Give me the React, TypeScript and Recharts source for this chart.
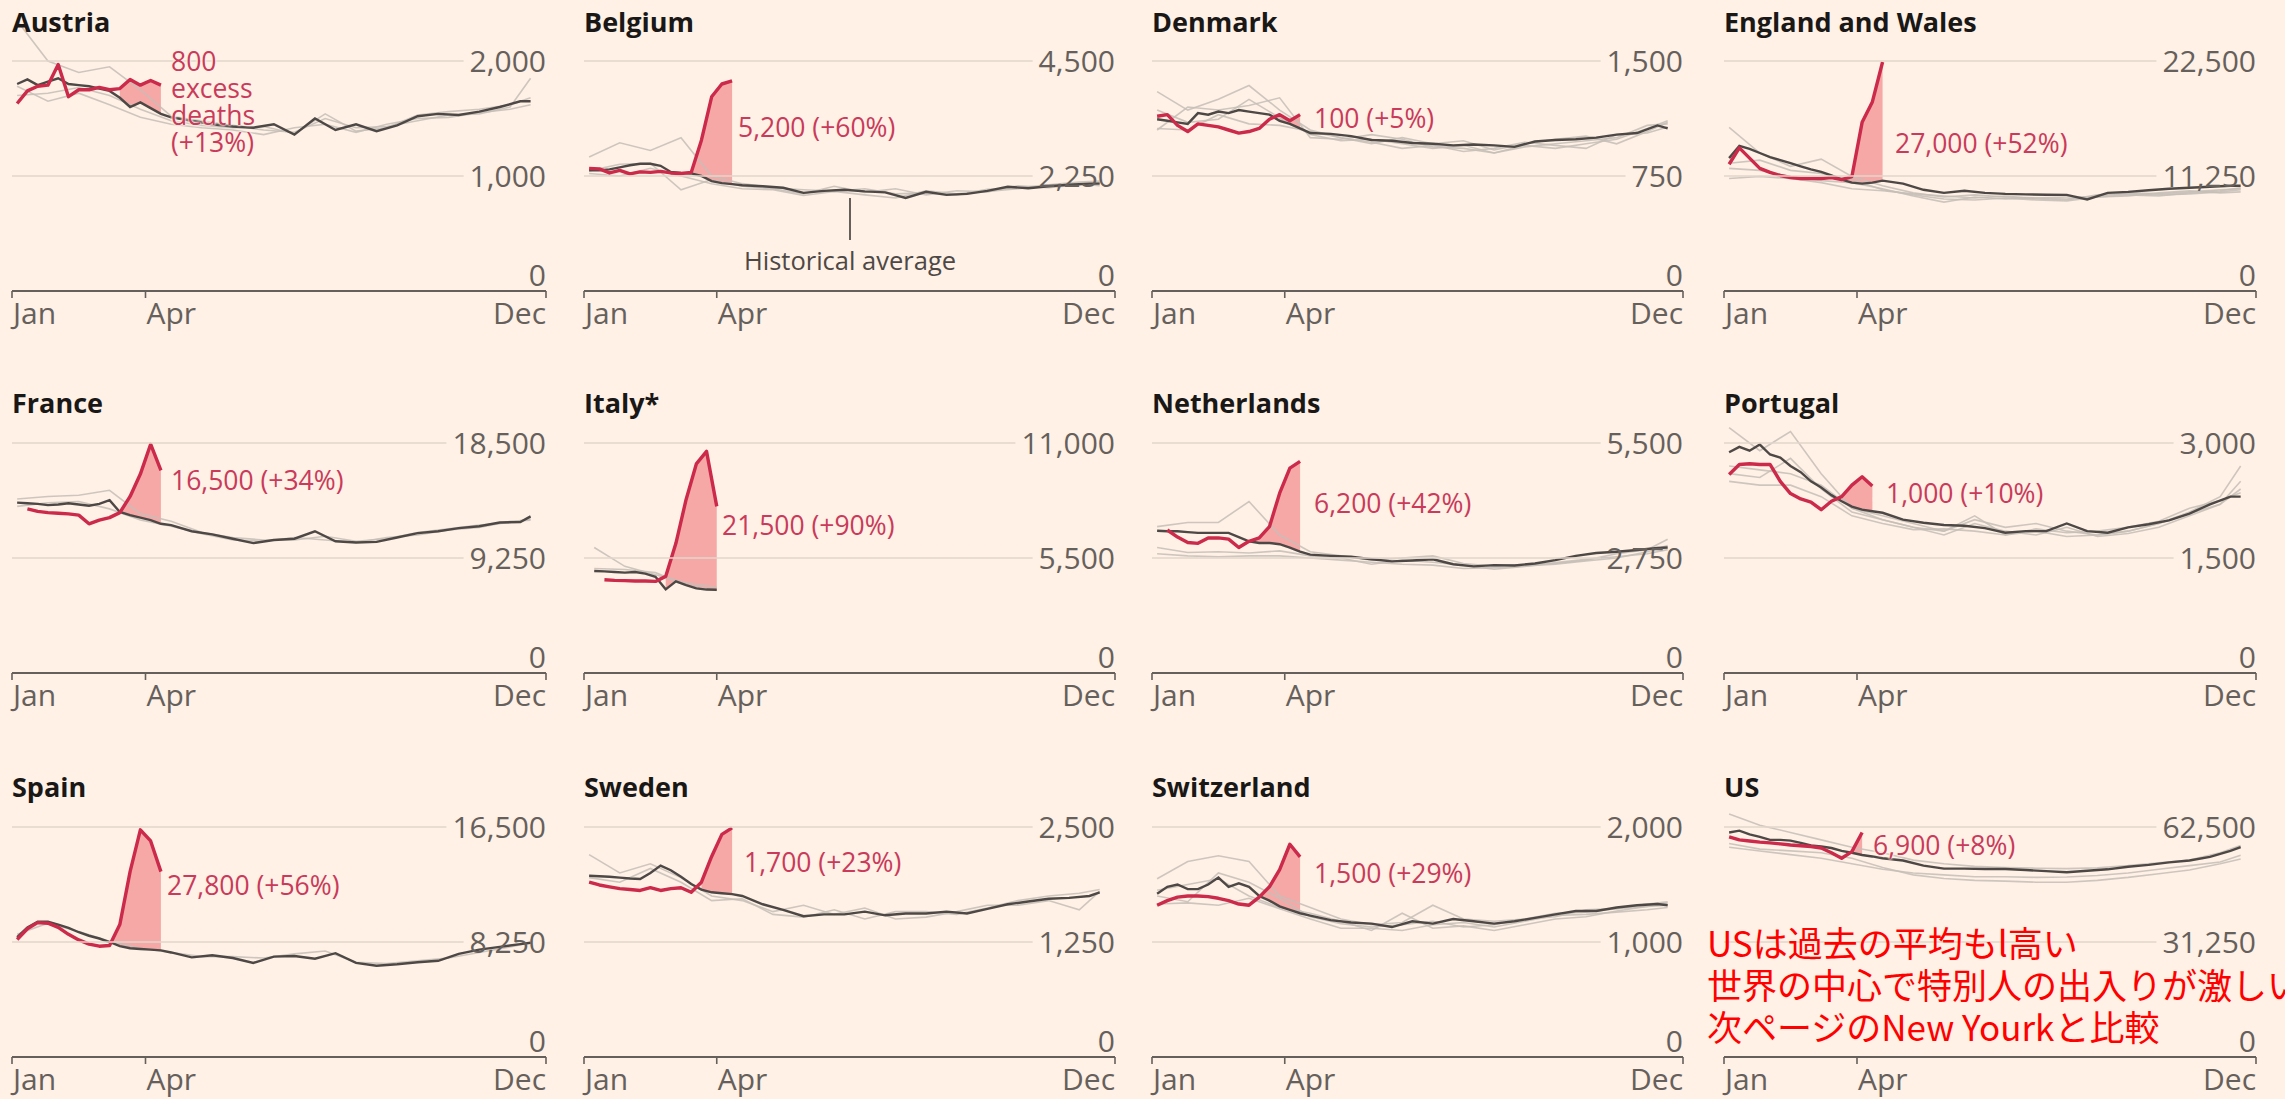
import React from "react";
import { ComposedChart, Line, Area, XAxis, YAxis } from "recharts";

const FONT = '"Open Sans", "Noto Sans", sans-serif';
const BG = "#fff1e5";
const INK = "#1a1817";
const AXIS_GRAY = "#66605c";
const GRID = "#e2d6cb";
const HIST = "#c6beb7";
const AVG_COLOR = "#4d4845";
const RED = "#cc2a4a";
const NOTE_RED = "#c93a5b";
const SHADE = "#f5a0a0";

// x positions are week numbers; Jan/Apr/Dec ticks
const MONTH_TICKS = [0.5, 13.5, 52.5];
const MONTH_LABELS = ["Jan", "Apr", "Dec"];

// weeks sampled for the historical average and for the individual past years
const AVG_WEEKS = [
  1, 2, 3, 4, 5, 6, 7, 8, 9, 10, 11, 12, 13, 14, 15, 16,
  18, 20, 22, 24, 26, 28, 30, 32, 34, 36, 38, 40, 42, 44, 46, 48, 50, 51,
];
const GRAY_WEEKS = [1, 4, 7, 10, 13, 16, 19, 22, 25, 28, 31, 34, 37, 40, 43, 46, 49, 51];

// ---- Austria
const austriaAvg = [1800, 1840, 1790, 1820, 1850, 1800, 1790, 1780, 1760, 1740, 1680, 1600, 1640, 1590, 1540, 1510,
  1480, 1450, 1430, 1420, 1450, 1360, 1500, 1400, 1450, 1390, 1440, 1520, 1540, 1530, 1560, 1600, 1650, 1650];
const austria2020 = [1630, 1740, 1780, 1790, 1970, 1690, 1750, 1750, 1770, 1750, 1760, 1840, 1790, 1830, 1790];
const austriaPast = [
  [2350, 2000, 1900, 1950, 1750, 1520, 1480, 1440, 1400, 1380, 1500, 1420, 1430, 1480, 1530, 1540, 1600, 1850],
  [1700, 1720, 1770, 1700, 1580, 1480, 1440, 1420, 1430, 1370, 1540, 1390, 1420, 1530, 1560, 1580, 1620, 1680],
  [1780, 1650, 1720, 1620, 1510, 1450, 1420, 1400, 1360, 1420, 1450, 1380, 1450, 1500, 1510, 1550, 1580, 1620],
];

// ---- Belgium
const belgiumAvg = [2360, 2360, 2380, 2420, 2460, 2490, 2490, 2450, 2330, 2310, 2300, 2250, 2150, 2110, 2090, 2070,
  2050, 2020, 1920, 1960, 1980, 1950, 1930, 1820, 1940, 1880, 1900, 1960, 2040, 2010, 2050, 2080, 2100, 2100];
const belgium2020 = [2400, 2390, 2310, 2360, 2290, 2330, 2320, 2340, 2310, 2300, 2320, 2950, 3800, 4050, 4110];
const belgiumPast = [
  [2620, 2900, 2750, 3000, 2250, 2100, 2020, 1980, 1950, 2000, 1900, 1920, 1880, 1990, 2020, 2080, 2130, 2150],
  [2350, 2480, 2500, 1980, 2180, 2050, 2000, 1900, 2050, 1930, 2000, 1880, 1960, 1940, 2060, 2020, 2080, 2120],
  [2300, 2250, 2400, 2250, 2100, 2000, 1980, 1870, 1950, 1880, 1820, 1960, 1900, 1950, 2000, 2060, 2100, 2060],
];

// ---- Denmark
const denmarkAvg = [1120, 1110, 1100, 1090, 1160, 1150, 1170, 1160, 1180, 1170, 1160, 1150, 1110, 1090, 1060, 1030,
  1025, 1010, 985, 980, 965, 960, 950, 955, 950, 940, 975, 985, 990, 1000, 1020, 1030, 1080, 1060];
const denmark2020 = [1140, 1150, 1080, 1040, 1090, 1080, 1070, 1050, 1030, 1040, 1060, 1120, 1150, 1110, 1150];
const denmarkPast = [
  [1300, 1180, 1250, 1340, 1180, 1050, 1000, 960, 1000, 960, 980, 920, 960, 990, 1010, 960, 1040, 1100],
  [1050, 1200, 1180, 1210, 1260, 1000, 990, 1020, 990, 940, 930, 900, 940, 960, 980, 1000, 1080, 1090],
  [1060, 1050, 1150, 1090, 1080, 1040, 1000, 970, 930, 950, 910, 930, 970, 950, 930, 1020, 1030, 1070],
  [1180, 1100, 1120, 1250, 1130, 1020, 980, 990, 960, 930, 950, 900, 950, 930, 960, 990, 1060, 1110],
];

// ---- England and Wales
const englandAvg = [13000, 14200, 13900, 13500, 13100, 12800, 12500, 12200, 11900, 11650, 11300, 10900, 10600, 10500, 10600, 10800,
  10500, 9900, 9600, 9800, 9600, 9500, 9450, 9420, 9400, 8950, 9600, 9700, 9850, 10000, 10100, 10200, 10300, 10300];
const england2020 = [12400, 14000, 13000, 12000, 11600, 11300, 11100, 11000, 11000, 11000, 11100, 10900, 11200, 16500, 18500, 22400];
const englandPast = [
  [16000, 13500, 12200, 12900, 11200, 10300, 9600, 9200, 9400, 9200, 9100, 9000, 9300, 9600, 9500, 9700, 9900, 10000],
  [12000, 11800, 11200, 10800, 10600, 10000, 9300, 8700, 9200, 9000, 9100, 9200, 9200, 9300, 9600, 9800, 9600, 9700],
  [11000, 11200, 11000, 10600, 10000, 9800, 9500, 9300, 9100, 9300, 9000, 8900, 9400, 9500, 9400, 9500, 9700, 9900],
  [12500, 12800, 11800, 11500, 10900, 9900, 9400, 9000, 8900, 9100, 8900, 8800, 9200, 9400, 9300, 9600, 9800, 10100],
];

// ---- France
const franceAvg = [13700, 13650, 13600, 13500, 13550, 13650, 13550, 13450, 13600, 13900, 12950, 12700, 12500, 12300, 12000, 11900,
  11400, 11150, 10800, 10450, 10700, 10800, 11400, 10600, 10500, 10550, 10900, 11250, 11400, 11650, 11800, 12100, 12150, 12600];
const france2020 = [13200, 13000, 12900, 12850, 12800, 12700, 12000, 12300, 12500, 12900, 14200, 16000, 18400, 16300];
const francePast = [
  [14000, 14200, 14300, 14700, 12800, 12200, 11300, 10900, 10700, 10700, 11000, 10600, 10800, 11300, 11600, 11900, 12100, 12400],
  [13400, 13700, 13800, 13200, 12300, 11800, 11200, 10700, 10600, 10900, 10700, 10500, 10900, 11100, 11500, 11700, 12200, 12300],
];

// ---- Italy (data only to early April)
const italyAvg = [4880, 4860, 4830, 4800, 4830, 4750, 4600, 4000, 4380, 4200, 4050, 3990, 3980];
const italy2020 = [4460, 4430, 4420, 4400, 4400, 4380, 4620, 6200, 8300, 10000, 10600, 7970];
const italyPast = [
  [6000, 5100, 4700, 4300, 4100],
  [5000, 4950, 4800, 4200, 3950],
];

// ---- Netherlands
const netherlandsAvg = [3400, 3390, 3390, 3370, 3350, 3350, 3350, 3350, 3250, 3150, 3110, 3110, 3080, 3000, 2900, 2830,
  2800, 2780, 2720, 2670, 2690, 2720, 2600, 2550, 2580, 2570, 2620, 2700, 2800, 2870, 2900, 2940, 2990, 3000];
const netherlands2020 = [3420, 3250, 3120, 3100, 3230, 3230, 3200, 3000, 3150, 3230, 3500, 4300, 4900, 5060];
const netherlandsPast = [
  [3500, 3600, 3600, 4100, 3300, 2900, 2800, 2700, 2750, 2800, 2620, 2550, 2600, 2620, 2700, 2850, 2950, 3200],
  [2850, 2800, 2780, 2800, 2800, 2750, 2700, 2650, 2600, 2580, 2500, 2520, 2560, 2600, 2680, 2750, 2900, 3050],
  [3000, 2880, 2900, 2870, 2920, 2800, 2750, 2600, 2700, 2650, 2580, 2480, 2550, 2640, 2720, 2780, 2850, 2950],
];

// ---- Portugal
const portugalAvg = [2880, 2950, 2900, 2980, 2850, 2810, 2700, 2620, 2500, 2420, 2320, 2240, 2170, 2130, 2110, 2090,
  2000, 1960, 1930, 1920, 1890, 1830, 1850, 1850, 1950, 1850, 1830, 1900, 1940, 1990, 2080, 2200, 2300, 2300];
const portugal2020 = [2590, 2720, 2730, 2720, 2720, 2500, 2340, 2270, 2230, 2130, 2240, 2300, 2450, 2560, 2440];
const portugalPast = [
  [3200, 2900, 3150, 2600, 2150, 2050, 1950, 1850, 2000, 1900, 1950, 1850, 1800, 1850, 1950, 2100, 2300, 2700],
  [2600, 2550, 2800, 2400, 2100, 2000, 1900, 1800, 1950, 1850, 1800, 1900, 1780, 1820, 1900, 2050, 2200, 2400],
  [2500, 2450, 2450, 2300, 2050, 1950, 1870, 1880, 1850, 1800, 1880, 1830, 1850, 1900, 1980, 2150, 2250, 2350],
  [2700, 2650, 2600, 2450, 2150, 2000, 1900, 1850, 2050, 1800, 1850, 1780, 1800, 1850, 1950, 2080, 2200, 2500],
];

// ---- Spain
const spainAvg = [8600, 9300, 9700, 9700, 9500, 9270, 8950, 8700, 8500, 8250, 7950, 7800, 7750, 7700, 7650, 7500,
  7150, 7300, 7100, 6750, 7200, 7250, 7050, 7450, 6750, 6550, 6650, 6800, 6900, 7400, 7700, 7900, 8100, 8200];
const spain2020 = [8430, 9200, 9640, 9600, 9300, 8800, 8400, 8100, 7950, 8000, 9500, 13300, 16300, 15500, 13300];
const spainPast = [
  [8800, 9600, 9000, 8300, 7800, 7500, 7200, 7200, 7100, 7400, 7600, 6800, 6700, 6900, 7100, 7500, 7900, 8200],
];

// ---- Sweden
const swedenAvg = [1970, 1965, 1960, 1950, 1940, 1935, 2000, 2080, 2030, 1960, 1880, 1820, 1790, 1780, 1770, 1750,
  1660, 1600, 1530, 1550, 1550, 1580, 1540, 1560, 1560, 1580, 1560, 1610, 1660, 1690, 1720, 1730, 1750, 1790];
const sweden2020 = [1900, 1870, 1850, 1830, 1820, 1810, 1840, 1810, 1830, 1840, 1790, 1900, 2180, 2420, 2490];
const swedenPast = [
  [2200, 2000, 2100, 1950, 1750, 1700, 1580, 1650, 1550, 1620, 1500, 1520, 1580, 1650, 1650, 1700, 1600, 1800],
  [1950, 1900, 2050, 1900, 1700, 1720, 1550, 1520, 1600, 1500, 1580, 1580, 1550, 1620, 1700, 1750, 1780, 1820],
];

// ---- Switzerland
const switzerlandAvg = [1420, 1480, 1500, 1460, 1460, 1500, 1560, 1480, 1510, 1480, 1400, 1360, 1310, 1280, 1250, 1230,
  1190, 1170, 1160, 1130, 1180, 1160, 1200, 1180, 1160, 1180, 1210, 1240, 1270, 1270, 1300, 1320, 1330, 1320];
const switzerland2020 = [1320, 1360, 1390, 1400, 1400, 1395, 1380, 1360, 1330, 1320, 1390, 1480, 1630, 1850, 1740];
const switzerlandPast = [
  [1550, 1700, 1750, 1700, 1400, 1300, 1200, 1150, 1170, 1320, 1200, 1180, 1200, 1250, 1260, 1290, 1330, 1350],
  [1400, 1350, 1600, 1520, 1380, 1220, 1160, 1130, 1150, 1180, 1130, 1150, 1200, 1220, 1280, 1290, 1310, 1320],
  [1330, 1340, 1320, 1380, 1290, 1200, 1120, 1120, 1100, 1150, 1170, 1130, 1180, 1230, 1240, 1260, 1280, 1300],
  [1450, 1500, 1550, 1400, 1300, 1250, 1180, 1100, 1250, 1120, 1140, 1100, 1150, 1200, 1220, 1270, 1310, 1340],
];

// ---- US
const usAvg = [61000, 61500, 60500, 59800, 59000, 59000, 58800, 58200, 57500, 57200, 56800, 56000, 55500, 54900, 54500, 54000,
  53400, 52000, 51200, 51200, 51100, 51100, 50800, 50500, 50200, 50600, 51000, 51700, 52200, 52900, 53400, 54400, 56000, 57000];
const us2020 = [59800, 59000, 58700, 58400, 58200, 57900, 57600, 57400, 57200, 56800, 55500, 54000, 55800, 61000];
const usPast = [
  [66000, 63000, 61000, 59000, 57000, 55500, 53500, 52500, 51800, 51500, 51300, 51200, 51400, 52000, 52800, 53500, 55500, 57500],
  [58000, 56500, 56000, 55500, 54000, 51500, 49500, 48500, 48000, 47800, 47500, 47500, 48000, 48800, 49800, 50800, 52500, 53800],
  [57000, 56000, 55000, 54000, 52500, 51000, 50000, 49500, 49000, 49000, 48800, 48900, 49300, 50000, 51000, 52000, 53000, 54800],
];

type Country = {
  name: string;
  top: number;
  avg: number[];
  cur: number[];
  curStart: number;
  past: number[][];
  excessFrom: number;
  shift?: number;
};

const COUNTRIES: Country[] = [
  { name: "Austria", top: 2000, avg: austriaAvg, cur: austria2020, curStart: 1, past: austriaPast, excessFrom: 11 },
  { name: "Belgium", top: 4500, avg: belgiumAvg, cur: belgium2020, curStart: 1, past: belgiumPast, excessFrom: 11 },
  { name: "Denmark", top: 1500, avg: denmarkAvg, cur: denmark2020, curStart: 1, past: denmarkPast, excessFrom: 13 },
  { name: "England and Wales", top: 22500, avg: englandAvg, cur: england2020, curStart: 1, past: englandPast, excessFrom: 12 },
  { name: "France", top: 18500, avg: franceAvg, cur: france2020, curStart: 2, past: francePast, excessFrom: 11 },
  { name: "Italy*", top: 11000, avg: italyAvg, cur: italy2020, curStart: 2, past: italyPast, excessFrom: 8, shift: 0.5 },
  { name: "Netherlands", top: 5500, avg: netherlandsAvg, cur: netherlands2020, curStart: 2, past: netherlandsPast, excessFrom: 10 },
  { name: "Portugal", top: 3000, avg: portugalAvg, cur: portugal2020, curStart: 1, past: portugalPast, excessFrom: 12 },
  { name: "Spain", top: 16500, avg: spainAvg, cur: spain2020, curStart: 1, past: spainPast, excessFrom: 10 },
  { name: "Sweden", top: 2500, avg: swedenAvg, cur: sweden2020, curStart: 1, past: swedenPast, excessFrom: 12 },
  { name: "Switzerland", top: 2000, avg: switzerlandAvg, cur: switzerland2020, curStart: 1, past: switzerlandPast, excessFrom: 11 },
  { name: "US", top: 62500, avg: usAvg, cur: us2020, curStart: 1, past: usPast, excessFrom: 13 },
];

const NOTE_TEXTS = [
  "800\nexcess\ndeaths\n(+13%)",
  "5,200 (+60%)",
  "100 (+5%)",
  "27,000 (+52%)",
  "16,500 (+34%)",
  "21,500 (+90%)",
  "6,200 (+42%)",
  "1,000 (+10%)",
  "27,800 (+56%)",
  "1,700 (+23%)",
  "1,500 (+29%)",
  "6,900 (+8%)",
];

const JP_LINES = [
  "USは過去の平均もl高い",
  "世界の中心で特別人の出入りが激しい",
  "次ページのNew Yourkと比較",
];

// layout
const COLS = [
  { left: 12, width: 534 },
  { left: 584, width: 531 },
  { left: 1152, width: 531 },
  { left: 1724, width: 532 },
];
const ROW_BASE = [291, 673, 1057];
const ROW_TITLE = [22, 403, 787];
const NOTE_POS = [
  { x: 171, y: 62 },
  { x: 738, y: 127 },
  { x: 1314, y: 118 },
  { x: 1895, y: 143 },
  { x: 171, y: 480 },
  { x: 722, y: 525 },
  { x: 1314, y: 503 },
  { x: 1886, y: 493 },
  { x: 167, y: 885 },
  { x: 744, y: 862 },
  { x: 1314, y: 873 },
  { x: 1873, y: 845 },
];
const PLOT_H = 276; // top gridline sits at 230px above the baseline
const OVER = PLOT_H / 230;
const PAD = 2;
const X_H = 42;
const TICK_SIZE = 30;
const X_TICK_SIZE = 30;

const measureCanvas = typeof document !== "undefined" ? document.createElement("canvas") : null;
function textWidth(text: string, font: string) {
  if (!measureCanvas) return text.length * 16;
  const ctx = measureCanvas.getContext("2d");
  if (!ctx) return text.length * 16;
  ctx.font = font;
  return ctx.measureText(text).width;
}

function YTick(props: any) {
  const { y, payload, plotRight } = props;
  const x = plotRight;
  const value = payload.value as number;
  const label = value.toLocaleString("en-US");
  const w = textWidth(label, `${TICK_SIZE}px ${FONT}`);
  const zero = value === 0;
  return (
    <g>
      {!zero && (
        <line x1={PAD} x2={x - w - 6} y1={y} y2={y} stroke={GRID} strokeWidth={1.6} />
      )}
      <text
        x={x}
        y={zero ? y - 16 : y}
        dy="0.36em"
        textAnchor="end"
        fontSize={TICK_SIZE}
        fontFamily={FONT}
        fill={AXIS_GRAY}
      >
        {label}
      </text>
    </g>
  );
}

function XTick(props: any) {
  const { x, y, payload } = props;
  const i = MONTH_TICKS.indexOf(payload.value);
  return (
    <g>
      <line x1={x} x2={x} y1={y} y2={y + 7} stroke={AXIS_GRAY} strokeWidth={1.6} />
      <text
        x={i === 2 ? x : x + 1}
        y={y + 22}
        dy="0.36em"
        textAnchor={i === 2 ? "end" : "start"}
        fontSize={X_TICK_SIZE}
        fontFamily={FONT}
        fill={AXIS_GRAY}
      >
        {MONTH_LABELS[i]}
      </text>
    </g>
  );
}

function Panel({ c, index }: { c: Country; index: number }) {
  const col = COLS[index % 4];
  const base = ROW_BASE[Math.floor(index / 4)];
  const shift = c.shift ?? 0;
  const plotRight = PAD + col.width;

  const avgData = c.avg.map((v, i) => ({ w: AVG_WEEKS[i] + shift, v }));
  const curData = c.cur.map((v, i) => ({ w: c.curStart + i + shift, v }));
  const pastData = c.past.map((p) => p.map((v, i) => ({ w: GRAY_WEEKS[i] + shift, v })));
  const band = c.cur
    .map((v, i) => ({ wk: c.curStart + i, v }))
    .filter((d) => d.wk >= c.excessFrom)
    .map((d) => ({ w: d.wk + shift, band: [c.avg[AVG_WEEKS.indexOf(d.wk)], d.v] }));

  return (
    <div style={{ position: "absolute", left: col.left - PAD, top: base - PLOT_H }}>
      <ComposedChart
        width={col.width + PAD * 2}
        height={PLOT_H + X_H}
        margin={{ top: 0, right: PAD, bottom: 0, left: PAD }}
      >
        <XAxis
          dataKey="w"
          type="number"
          domain={[0.5, 52.5]}
          ticks={MONTH_TICKS}
          allowDataOverflow
          interval={0}
          height={X_H}
          tickSize={0}
          tickMargin={0}
          tickLine={false}
          axisLine={{ stroke: AXIS_GRAY, strokeWidth: 2 }}
          tick={(p: any) => <XTick {...p} />}
        />
        <YAxis
          type="number"
          orientation="right"
          mirror
          width={40}
          domain={[0, c.top * OVER]}
          ticks={[0, c.top / 2, c.top]}
          allowDataOverflow
          interval={0}
          axisLine={false}
          tickLine={false}
          tickSize={0}
          tickMargin={0}
          tick={(p: any) => <YTick {...p} plotRight={plotRight} />}
        />
        {pastData.map((d, i) => (
          <Line
            key={`past-${i}`}
            data={d}
            dataKey="v"
            type="linear"
            stroke={HIST}
            strokeWidth={1.6}
            strokeOpacity={0.85}
            dot={false}
            isAnimationActive={false}
          />
        ))}
        <Area
          data={band}
          dataKey="band"
          type="linear"
          stroke="none"
          fill={SHADE}
          fillOpacity={0.9}
          isAnimationActive={false}
        />
        <Line
          data={avgData}
          dataKey="v"
          type="linear"
          stroke={AVG_COLOR}
          strokeWidth={2.4}
          dot={false}
          isAnimationActive={false}
        />
        <Line
          data={curData}
          dataKey="v"
          type="linear"
          stroke={RED}
          strokeWidth={3.4}
          strokeLinejoin="round"
          dot={false}
          isAnimationActive={false}
        />
      </ComposedChart>
    </div>
  );
}

export default function App() {
  return (
    <div
      style={{
        position: "absolute",
        left: 0,
        top: 0,
        width: 2285,
        height: 1099,
        background: BG,
        overflow: "hidden",
        fontFamily: FONT,
      }}
    >
      {COUNTRIES.map((c, i) => (
        <Panel key={c.name} c={c} index={i} />
      ))}

      {COUNTRIES.map((c, i) => (
        <div
          key={`t-${c.name}`}
          style={{
            position: "absolute",
            left: COLS[i % 4].left,
            top: ROW_TITLE[Math.floor(i / 4)] - 15,
            fontSize: 27,
            lineHeight: "30px",
            fontWeight: 700,
            color: INK,
            whiteSpace: "nowrap",
          }}
        >
          {c.name}
        </div>
      ))}

      {NOTE_TEXTS.map((t, i) => {
        const multi = t.includes("\n");
        return (
          <div
            key={`n-${i}`}
            style={{
              position: "absolute",
              left: NOTE_POS[i].x,
              top: NOTE_POS[i].y - (multi ? 14 : 17),
              fontSize: 26.5,
              lineHeight: multi ? "27px" : "34px",
              color: NOTE_RED,
              whiteSpace: "pre",
              textShadow: `0 0 3px ${BG}, 0 0 3px ${BG}, 0 0 2px ${BG}`,
            }}
          >
            {t}
          </div>
        );
      })}

      {/* Historical average callout */}
      <div style={{ position: "absolute", left: 849, top: 198, width: 2, height: 42, background: AXIS_GRAY }} />
      <div
        style={{
          position: "absolute",
          left: 850,
          top: 243,
          transform: "translateX(-50%)",
          fontSize: 25.5,
          lineHeight: "34px",
          color: "#4d4845",
          whiteSpace: "nowrap",
        }}
      >
        Historical average
      </div>

      <div
        style={{
          position: "absolute",
          left: 1707,
          top: 921,
          fontFamily: '"Noto Sans CJK JP", sans-serif',
          fontSize: 35,
          lineHeight: "42px",
          color: "#ff0000",
          whiteSpace: "nowrap",
        }}
      >
        {JP_LINES.map((l) => (
          <div key={l}>{l}</div>
        ))}
      </div>
    </div>
  );
}
